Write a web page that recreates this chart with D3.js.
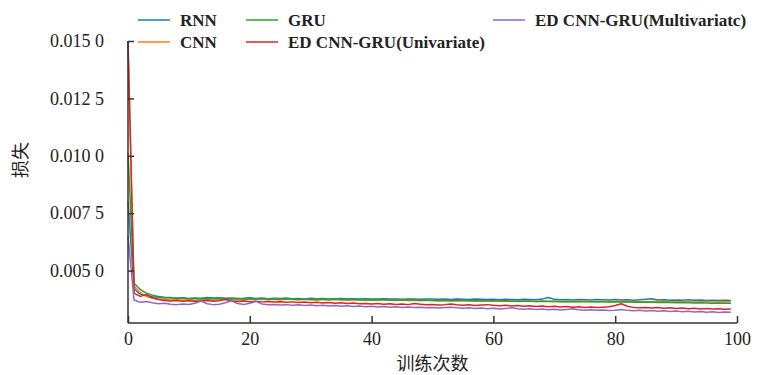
<!DOCTYPE html>
<html>
<head>
<meta charset="utf-8">
<script src="https://cdn.jsdelivr.net/npm/d3@7"></script>
<style>
  body { margin: 0; background: #fff; }
  svg { display: block; }
</style>
</head>
<body>
<svg id="chart" width="759" height="375"></svg>
<script>
// series names, in legend order
const seriesNames = ["RNN", "CNN", "GRU", "ED CNN-GRU(Univariate)", "ED CNN-GRU(Multivariatc)"];
const seriesColors = ["#1f77b4", "#ff7f0e", "#2ca02c", "#d62728", "#9467bd"];

const yTicks = [0.005, 0.0075, 0.01, 0.0125, 0.015];
const yTickLabels = ["0.005 0", "0.007 5", "0.010 0", "0.012 5", "0.015 0"];
const xTicks = [0, 20, 40, 60, 80, 100];

// loss per epoch (0..99)
const rnn = [
  0.00800, 0.00420, 0.00398, 0.00390, 0.00386, 0.00384, 0.00381, 0.00383, 0.00380, 0.00382,
  0.00379, 0.00381, 0.00380, 0.00383, 0.00381, 0.00382, 0.00380, 0.00381, 0.00379, 0.00380,
  0.00382, 0.00379, 0.00381, 0.00378, 0.00380, 0.00379, 0.00381, 0.00378, 0.00379, 0.00377,
  0.00380, 0.00378, 0.00379, 0.00377, 0.00378, 0.00379, 0.00377, 0.00378, 0.00376, 0.00378,
  0.00377, 0.00376, 0.00378, 0.00376, 0.00377, 0.00375, 0.00377, 0.00376, 0.00375, 0.00377,
  0.00376, 0.00375, 0.00376, 0.00374, 0.00376, 0.00375, 0.00374, 0.00376, 0.00375, 0.00374,
  0.00375, 0.00373, 0.00375, 0.00374, 0.00373, 0.00375, 0.00374, 0.00373, 0.00376, 0.00383,
  0.00375, 0.00373, 0.00374, 0.00372, 0.00374, 0.00373, 0.00372, 0.00374, 0.00373, 0.00372,
  0.00374, 0.00372, 0.00373, 0.00371, 0.00373, 0.00375, 0.00378, 0.00372, 0.00373, 0.00371,
  0.00372, 0.00371, 0.00373, 0.00371, 0.00372, 0.00370, 0.00371, 0.00370, 0.00371, 0.00370
];
const cnn = [
  0.01500, 0.00432, 0.00405, 0.00388, 0.00380, 0.00376, 0.00374, 0.00372, 0.00374, 0.00371,
  0.00373, 0.00370, 0.00372, 0.00374, 0.00371, 0.00376, 0.00373, 0.00371, 0.00374, 0.00372,
  0.00377, 0.00374, 0.00379, 0.00373, 0.00375, 0.00372, 0.00376, 0.00374, 0.00372, 0.00375,
  0.00373, 0.00371, 0.00374, 0.00372, 0.00375, 0.00373, 0.00371, 0.00373, 0.00372, 0.00370,
  0.00372, 0.00371, 0.00373, 0.00371, 0.00370, 0.00372, 0.00370, 0.00371, 0.00369, 0.00371,
  0.00370, 0.00368, 0.00370, 0.00369, 0.00368, 0.00370, 0.00369, 0.00367, 0.00369, 0.00368,
  0.00367, 0.00369, 0.00367, 0.00368, 0.00366, 0.00368, 0.00367, 0.00366, 0.00368, 0.00367,
  0.00366, 0.00367, 0.00365, 0.00367, 0.00366, 0.00368, 0.00366, 0.00365, 0.00367, 0.00365,
  0.00366, 0.00367, 0.00365, 0.00366, 0.00364, 0.00366, 0.00365, 0.00367, 0.00365, 0.00364,
  0.00366, 0.00364, 0.00365, 0.00363, 0.00365, 0.00364, 0.00363, 0.00365, 0.00364, 0.00364
];
const gru = [
  0.01010, 0.00445, 0.00418, 0.00402, 0.00393, 0.00387, 0.00384, 0.00382, 0.00381, 0.00380,
  0.00378, 0.00379, 0.00377, 0.00379, 0.00378, 0.00380, 0.00378, 0.00377, 0.00379, 0.00377,
  0.00378, 0.00376, 0.00378, 0.00377, 0.00375, 0.00377, 0.00376, 0.00375, 0.00377, 0.00375,
  0.00374, 0.00376, 0.00375, 0.00374, 0.00375, 0.00373, 0.00375, 0.00374, 0.00373, 0.00374,
  0.00372, 0.00374, 0.00373, 0.00372, 0.00373, 0.00371, 0.00373, 0.00372, 0.00371, 0.00372,
  0.00370, 0.00371, 0.00370, 0.00369, 0.00371, 0.00370, 0.00369, 0.00370, 0.00368, 0.00370,
  0.00369, 0.00368, 0.00369, 0.00367, 0.00368, 0.00367, 0.00368, 0.00366, 0.00367, 0.00366,
  0.00367, 0.00365, 0.00366, 0.00365, 0.00366, 0.00364, 0.00365, 0.00364, 0.00365, 0.00363,
  0.00364, 0.00363, 0.00364, 0.00362, 0.00363, 0.00362, 0.00363, 0.00361, 0.00362, 0.00361,
  0.00360, 0.00361, 0.00360, 0.00359, 0.00360, 0.00359, 0.00358, 0.00359, 0.00358, 0.00358
];
const edUni = [
  0.01500, 0.00402, 0.00388, 0.00396, 0.00382, 0.00374, 0.00370, 0.00368, 0.00370, 0.00367,
  0.00369, 0.00366, 0.00368, 0.00370, 0.00367, 0.00369, 0.00375, 0.00368, 0.00366, 0.00368,
  0.00365, 0.00367, 0.00364, 0.00366, 0.00363, 0.00365, 0.00362, 0.00364, 0.00361, 0.00363,
  0.00360, 0.00362, 0.00359, 0.00361, 0.00358, 0.00360, 0.00357, 0.00359, 0.00356, 0.00357,
  0.00355, 0.00357, 0.00354, 0.00356, 0.00353, 0.00355, 0.00352, 0.00357, 0.00354, 0.00351,
  0.00353, 0.00350, 0.00352, 0.00355, 0.00351, 0.00349, 0.00351, 0.00348, 0.00350, 0.00352,
  0.00349, 0.00347, 0.00349, 0.00346, 0.00348, 0.00345, 0.00347, 0.00344, 0.00346, 0.00343,
  0.00345, 0.00342, 0.00344, 0.00341, 0.00343, 0.00340, 0.00342, 0.00339, 0.00341, 0.00343,
  0.00348, 0.00356, 0.00345, 0.00340, 0.00338, 0.00340, 0.00337, 0.00339, 0.00336, 0.00338,
  0.00335, 0.00337, 0.00334, 0.00336, 0.00333, 0.00335, 0.00333, 0.00334, 0.00332, 0.00333
];
const edMulti = [
  0.00650, 0.00372, 0.00362, 0.00366, 0.00360, 0.00356, 0.00358, 0.00354, 0.00352, 0.00355,
  0.00353, 0.00358, 0.00368, 0.00356, 0.00352, 0.00354, 0.00360, 0.00369, 0.00357, 0.00353,
  0.00358, 0.00366, 0.00355, 0.00351, 0.00353, 0.00350, 0.00352, 0.00349, 0.00351, 0.00348,
  0.00350, 0.00347, 0.00349, 0.00346, 0.00348, 0.00345, 0.00347, 0.00344, 0.00346, 0.00343,
  0.00345, 0.00342, 0.00344, 0.00341, 0.00343, 0.00340, 0.00342, 0.00339, 0.00341, 0.00338,
  0.00340, 0.00337, 0.00339, 0.00341, 0.00338, 0.00336, 0.00338, 0.00335, 0.00337, 0.00334,
  0.00336, 0.00333, 0.00335, 0.00338, 0.00334, 0.00332, 0.00334, 0.00331, 0.00333, 0.00330,
  0.00332, 0.00329, 0.00331, 0.00334, 0.00330, 0.00328, 0.00330, 0.00327, 0.00329, 0.00326,
  0.00328, 0.00331, 0.00327, 0.00325, 0.00327, 0.00324, 0.00326, 0.00323, 0.00325, 0.00322,
  0.00324, 0.00321, 0.00323, 0.00320, 0.00322, 0.00319, 0.00321, 0.00318, 0.00320, 0.00319
];

const seriesValues = [rnn, cnn, gru, edUni, edMulti];

const svg = d3.select("#chart");
const plotLeft = 128, plotRight = 737, plotTop = 41, plotBottom = 323;
const axisColor = "#333";
const serif = "'Liberation Serif', 'DejaVu Serif', serif";
const cjk = "'Noto Sans CJK SC', sans-serif";

const x = d3.scaleLinear().domain([0, 100]).range([plotLeft, plotRight]);
const y = d3.scaleLinear().domain([0.00272, 0.015]).range([plotBottom, plotTop]);

// lines
const line = d3.line()
  .x((d, i) => x(i))
  .y(d => y(d));

seriesValues.forEach((vals, i) => {
  svg.append("path")
    .datum(vals)
    .attr("d", line)
    .attr("fill", "none")
    .attr("stroke", seriesColors[i])
    .attr("stroke-width", 1.5)
    .attr("stroke-linejoin", "round");
});

// axes, ticks point inward
const xAxis = svg.append("g")
  .attr("transform", `translate(0,${plotBottom})`)
  .call(d3.axisBottom(x).tickValues(xTicks).tickSize(-7).tickPadding(9).tickFormat(d3.format("d")));
const yAxis = svg.append("g")
  .attr("transform", `translate(${plotLeft},0)`)
  .call(d3.axisLeft(y).tickValues(yTicks).tickSize(-6).tickPadding(24)
    .tickFormat((d, i) => yTickLabels[i]));

[xAxis, yAxis].forEach(g => {
  g.select(".domain").attr("stroke", axisColor).attr("stroke-width", 1.5);
  g.selectAll(".tick line").attr("stroke", axisColor).attr("stroke-width", 1.5);
  g.selectAll(".tick text")
    .attr("fill", "#222")
    .style("font-family", serif)
    .style("font-size", "18px");
});
// plain axis lines, no end caps
yAxis.select(".domain").attr("d", `M0,${y(0.015)}V${plotBottom}`);
xAxis.select(".domain").attr("d", `M${plotLeft},0H${plotRight}`);

// axis titles
svg.append("text")
  .attr("x", (plotLeft + plotRight) / 2)
  .attr("y", 370)
  .attr("text-anchor", "middle")
  .attr("fill", "#222")
  .style("font-family", cjk)
  .style("font-size", "18px")
  .text("训练次数");

svg.append("text")
  .attr("transform", "translate(27,160) rotate(-90)")
  .attr("text-anchor", "middle")
  .attr("fill", "#222")
  .style("font-family", cjk)
  .style("font-size", "18px")
  .text("损失");

// legend, filled column by column like matplotlib ncol=3
const legendCols = [138, 246, 493];
const legendRows = [20, 42];
seriesNames.forEach((name, i) => {
  const cx = legendCols[Math.floor(i / 2)];
  const cy = legendRows[i % 2];
  svg.append("line")
    .attr("x1", cx).attr("x2", cx + 32)
    .attr("y1", cy).attr("y2", cy)
    .attr("stroke", seriesColors[i])
    .attr("stroke-width", 1.5);
  svg.append("text")
    .attr("x", cx + 42)
    .attr("y", cy)
    .attr("dy", "0.35em")
    .attr("fill", "#222")
    .style("font-family", serif)
    .style("font-weight", "bold")
    .style("font-size", "17px")
    .text(name);
});
</script>
</body>
</html>
